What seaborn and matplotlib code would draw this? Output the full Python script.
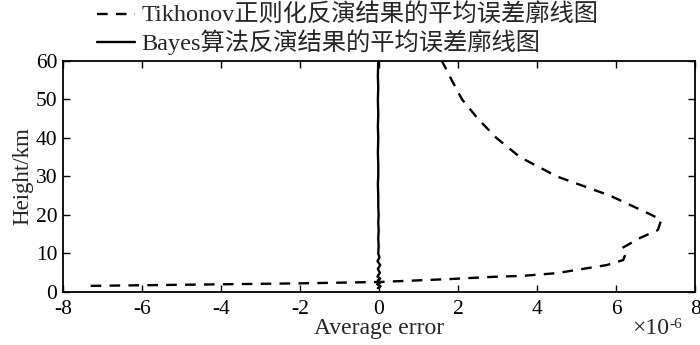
import numpy as np
import pandas as pd
import matplotlib
matplotlib.use('Agg')
import matplotlib.pyplot as plt
import seaborn as sns

# Tikhonov: 平均误差 (单位 1e-6) 与高度 (km)
tik_err = [-7.3, -6.0, -4.0, -2.0, 0.0, 1.87, 2.8, 3.65, 4.5, 5.16, 5.77, 6.18, 6.23,
           6.15, 6.6, 7.06, 7.14, 6.9, 5.85, 4.5, 3.57, 2.97, 2.5, 2.1, 1.84, 1.59]
tik_h = [1.6, 1.75, 2.0, 2.25, 2.6, 3.4, 3.9, 4.2, 4.9, 6.0, 7.0, 8.3, 9.6,
         11.4, 14.0, 16.1, 18.7, 20.0, 25.0, 30.0, 35.0, 40.0, 45.0, 50.0, 55.0, 60.0]

# Bayes: 平均误差 (单位 1e-6) 与高度 (km)
bayes_h = [1, 1.5, 2, 2.5, 3, 3.5, 4, 5, 6, 7, 8, 9, 10, 12, 14, 16, 18, 20, 22, 25,
           28, 30, 33, 36, 40, 43, 46, 50, 53, 56, 60]
bayes_err = [-0.03, 0.04, -0.05, 0.04, -0.03, 0.03, -0.04, 0.02, -0.03, 0.03, -0.04, 0.01,
             -0.02, -0.01, -0.02, -0.01, -0.02, -0.01, -0.02, -0.02, -0.03, -0.02, -0.02, -0.03,
             -0.02, -0.03, -0.02, -0.03, -0.02, -0.03, -0.02]

x_ticks = [-8, -6, -4, -2, 0, 2, 4, 6, 8]
y_ticks = [0, 10, 20, 30, 40, 50, 60]

sns.set_style('ticks')
plt.rcParams['font.family'] = ['Liberation Serif', 'Noto Sans CJK SC']
plt.rcParams['axes.unicode_minus'] = False

fig = plt.figure(figsize=(7, 3.45), dpi=100)
ax = fig.add_axes([0.09, 0.1536, 0.903, 0.67])

df_tik = pd.DataFrame({'err': tik_err, 'h': tik_h})
df_bay = pd.DataFrame({'err': bayes_err, 'h': bayes_h})

sns.lineplot(data=df_tik, x='err', y='h', sort=False, estimator=None, ax=ax,
             color='black', linewidth=1.7, dashes=False, linestyle=(0, (4.5, 3.5)),
             label='Tikhonov正则化反演结果的平均误差廓线图')
sns.lineplot(data=df_bay, x='err', y='h', sort=False, estimator=None, ax=ax,
             color='black', linewidth=1.7, label='Bayes算法反演结果的平均误差廓线图')

ax.set_xlim(-8, 8)
ax.set_ylim(0, 60)
ax.set_xticks(x_ticks)
ax.set_xticklabels([str(v) for v in x_ticks])
ax.set_yticks(y_ticks)

ax.tick_params(direction='in', top=True, right=True, labelsize=15.5, length=5, width=1, colors='black')
ax.tick_params(axis='x', pad=6)
ax.tick_params(axis='y', pad=4)
for s in ax.spines.values():
    s.set_linewidth(1.3)
    s.set_color('black')

ax.set_xlabel('Average error', fontsize=17, labelpad=-1)
ax.set_ylabel('Height/km', fontsize=16.5, labelpad=2)

# 坐标轴倍数标注
t_mult = fig.text(0.903, 0.048, '×10', fontsize=17, ha='left', va='center')
ax.annotate('-6', xy=(1, 1), xycoords=t_mult, xytext=(0.5, 0), textcoords='offset points',
            fontsize=11, ha='left', va='top')

leg = ax.legend(loc='upper left', bbox_to_anchor=(0.124, 1.016), bbox_transform=fig.transFigure,
                frameon=False, fontsize=17.5, handlelength=1.6, handletextpad=0.25,
                labelspacing=0.1, borderaxespad=0)

fig.savefig('out.png', dpi=100)
